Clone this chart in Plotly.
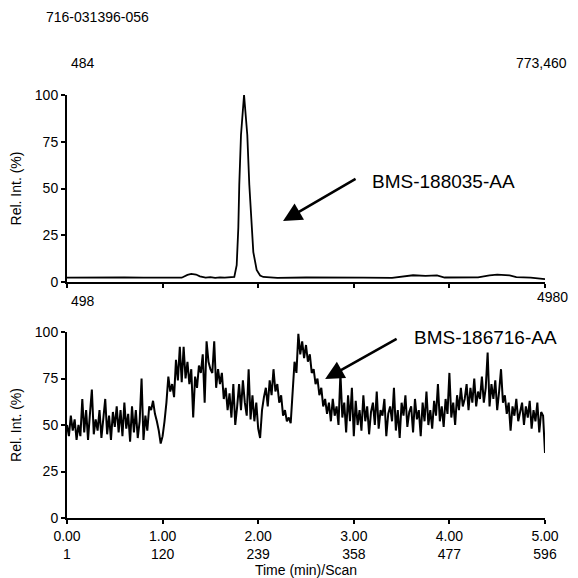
import plotly.graph_objects as go

# ---- data ----
run_id = "716-031396-056"
top_mass = "484"
top_max = "773,460"
bot_mass = "498"
bot_max = "4980"
top_label = "BMS-188035-AA"
bot_label = "BMS-186716-AA"

x_ticks = [0, 1, 2, 3, 4, 5]
x_tick_time = ["0.00", "1.00", "2.00", "3.00", "4.00", "5.00"]
x_tick_scan = ["1", "120", "239", "358", "477", "596"]
y_ticks = [0, 25, 50, 75, 100]

top_t = [0.0, 0.2, 0.4, 0.6, 0.8, 1.0, 1.1, 1.2, 1.26, 1.3, 1.35, 1.39, 1.45, 1.5, 1.55,
         1.6, 1.65, 1.7, 1.75, 1.775, 1.792, 1.802, 1.82, 1.852, 1.886, 1.907, 1.925,
         1.949, 1.984, 2.02, 2.053, 2.2, 2.5, 2.8, 3.1, 3.4, 3.56, 3.62, 3.75, 3.87, 3.95,
         4.1, 4.3, 4.42, 4.5, 4.63, 4.7, 4.85, 5.0]
top_v = [2.3, 2.4, 2.3, 2.5, 2.3, 2.4, 2.2, 2.3, 3.8, 4.3, 4.0, 3.0, 2.3, 2.6, 2.2,
         2.5, 2.3, 2.4, 2.7, 9, 29, 52, 78.6, 100, 78.6, 52, 34,
         16, 6.4, 3.5, 2.7, 2.2, 2.4, 2.2, 2.3, 2.2, 3.2, 3.6, 3.3, 3.5, 2.4,
         2.3, 2.5, 3.6, 3.9, 3.5, 2.6, 2.3, 1.5]

bot_t = [round(i * 0.02, 2) for i in range(251)]
bot_v = [
    50, 44, 55, 47, 53, 42, 50, 44, 64, 46,
    58, 42, 56, 69, 45, 53, 47, 58, 43, 55,
    64, 45, 55, 42, 57, 49, 60, 46, 58, 44,
    62, 48, 56, 41, 60, 46, 58, 43, 52, 75,
    42, 55, 47, 60, 58, 63, 56, 52, 47, 40,
    44, 52, 62, 76, 68, 72, 65, 85, 74, 92,
    73, 92, 75, 84, 72, 80, 54, 76, 70, 82,
    78, 88, 62, 95, 84, 80, 78, 95, 70, 80,
    72, 78, 64, 70, 58, 67, 54, 72, 50, 60,
    72, 58, 74, 62, 55, 80, 53, 66, 52, 62,
    48, 43, 58, 65, 70, 60, 74, 66, 80, 68,
    72, 62, 66, 55, 58, 52, 54, 51, 68, 84,
    78, 99, 88, 95, 86, 93, 84, 88, 78, 80,
    72, 75, 66, 70, 60, 64, 56, 62, 52, 64,
    55, 60, 50, 78, 54, 62, 46, 66, 52, 70,
    44, 63, 50, 58, 47, 66, 52, 60, 45, 57,
    62, 50, 68, 48, 58, 55, 64, 44, 56, 60,
    52, 70, 47, 58, 43, 62, 55, 66, 49, 57,
    60, 46, 64, 53, 58, 44, 62, 52, 68, 50,
    58, 48, 63, 55, 72, 52, 60, 49, 64, 56,
    78, 54, 62, 50, 66, 58, 70, 60, 64, 72,
    58, 70, 62, 75, 60, 68, 64, 76, 62, 70,
    89, 60, 72, 64, 74, 58, 68, 80, 62, 66,
    56, 62, 47, 60, 55, 64, 52, 58, 62, 50,
    60, 54, 63, 48, 58, 52, 62, 46, 57, 55,
    35,
]

# page body has an 8px margin: the figure sits at (8, 8) in the 578px window
OFF = 8
W = H = 578 - OFF
FONT = "Liberation Sans, Arial, sans-serif"

def px(x):
    return (x - OFF) / W

def py(y):
    return 1 - (y - OFF) / H

fig = go.Figure()
fig.add_trace(go.Scatter(x=top_t, y=top_v, mode="lines", line=dict(color="black", width=1.8),
                         xaxis="x", yaxis="y", showlegend=False, hoverinfo="skip"))
fig.add_trace(go.Scatter(x=bot_t, y=bot_v, mode="lines", line=dict(color="black", width=2.0),
                         xaxis="x2", yaxis="y2", showlegend=False, hoverinfo="skip"))

xdom = [px(67), px(545)]
axis_common = dict(showline=True, linecolor="black", linewidth=2, ticks="outside",
                   ticklen=4, tickwidth=1.5, tickcolor="black", showgrid=False,
                   zeroline=False, mirror=False, automargin=False,
                   tickfont=dict(family=FONT, size=14, color="black"))

fig.update_layout(
    width=W, height=H, margin=dict(l=0, r=0, t=0, b=0),
    paper_bgcolor="white", plot_bgcolor="white", template="none",
    font=dict(family=FONT, size=14, color="black"),
    xaxis=dict(domain=xdom, range=[0, 5], tickvals=x_ticks, showticklabels=False,
               anchor="y", **axis_common),
    yaxis=dict(domain=[py(282), py(95)], range=[0, 100], tickvals=y_ticks,
               anchor="x", title=dict(text="Rel. Int. (%)", standoff=10,
                                      font=dict(family=FONT, size=14)), **axis_common),
    xaxis2=dict(domain=xdom, range=[0, 5], tickvals=x_ticks,
                ticktext=[f"{a}<br>{b}" for a, b in zip(x_tick_time, x_tick_scan)],
                anchor="y2", title=dict(text="Time (min)/Scan", standoff=5,
                                        font=dict(family=FONT, size=14)), **axis_common),
    yaxis2=dict(domain=[py(518), py(332)], range=[0, 100], tickvals=y_ticks,
                anchor="x2", title=dict(text="Rel. Int. (%)", standoff=10,
                                        font=dict(family=FONT, size=14)), **axis_common),
)

def text_ann(text, x, y, xanchor="left", size=14):
    fig.add_annotation(text=text, x=px(x), y=py(y), xref="paper", yref="paper",
                       xanchor=xanchor, yanchor="middle", showarrow=False,
                       font=dict(family=FONT, size=size, color="black"))

text_ann(run_id, 44, 17)
text_ann(top_mass, 69, 63)
text_ann(top_max, 569, 63, xanchor="right")
text_ann(bot_mass, 69, 301)
text_ann(bot_max, 570, 297, xanchor="right")

text_ann(top_label, 370, 181, size=19)
text_ann(bot_label, 412, 337, size=19)

# arrows pointing to the peaks
fig.add_annotation(x=2.26, y=32.6, xref="x", yref="y", ax=74, ay=-43, axref="pixel",
                   ayref="pixel", showarrow=True, arrowhead=2, arrowsize=1.5,
                   arrowwidth=2.5, arrowcolor="black", text="")
fig.add_annotation(x=2.70, y=74.7, xref="x2", yref="y2", ax=73, ay=-41, axref="pixel",
                   ayref="pixel", showarrow=True, arrowhead=2, arrowsize=1.5,
                   arrowwidth=2.5, arrowcolor="black", text="")

fig.write_html("out.html")
